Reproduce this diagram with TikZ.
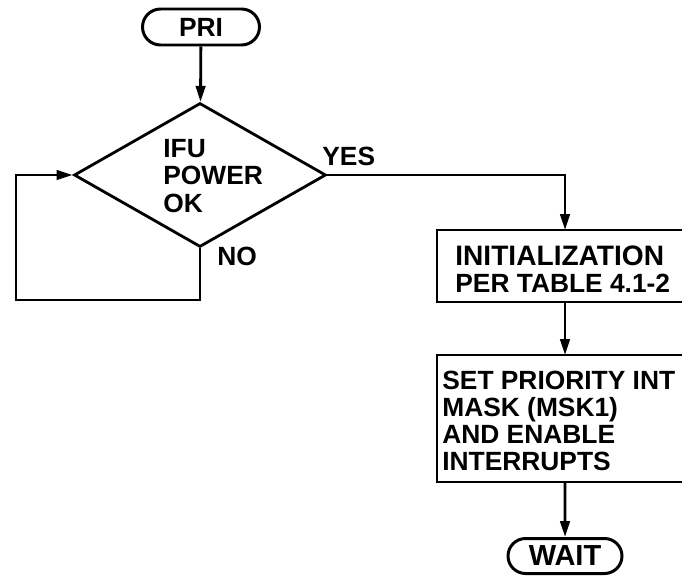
\documentclass[tikz,border=0pt]{standalone}
\usepackage{fontspec}
\setmainfont{Liberation Sans}
\usetikzlibrary{positioning,arrows.meta,shapes.geometric,shapes.misc}

\begin{document}
\begin{tikzpicture}[
  x=0.02cm,y=-0.02cm,
  every node/.style={font=\fontsize{15}{15.5}\selectfont\bfseries},
  term/.style={rounded rectangle, draw, line width=1.7pt, minimum height=0.72cm, inner sep=0pt},
  test/.style={diamond, draw, line width=1.6pt, minimum width=5.04cm, minimum height=2.88cm, inner sep=0pt},
  proc/.style={rectangle, anchor=north west, minimum width=6cm, inner sep=0pt, outer sep=0pt},
  edge/.style={line width=1.6pt, line join=miter},
  body/.style={anchor=west, align=left, inner sep=0pt},
  tag/.style={anchor=base west, inner sep=0pt},
  flow/.style={line width=1.6pt, -{Triangle[length=0.32cm,width=0.19cm]}}
]
\useasboundingbox (0,0) rectangle (682,575);

\node[term, minimum width=2.34cm] (pri) at (201,27) {PRI};
\node[test] (ok) at (200,175) {};
\node[body] (okText) at (163,176)
  {\fontsize{15}{17}\selectfont IFU\\POWER\\OK};

% boxes run off the right side of the sheet
\node[proc, minimum height=1.44cm] (init) at (437,230) {};
\node[body] (initText) at (455,269)
  {\fontsize{16}{16}\selectfont INITIALIZATION\\PER TABLE 4.1-2};
\draw[edge] (init.north east) -- (init.north west) -- (init.south west) -- (init.south east);

\node[proc, minimum height=2.54cm] (mask) at (437,355) {};
\node[body] (maskText) at (442,421)
  {SET PRIORITY INT\\MASK (MSK1)\\AND ENABLE\\INTERRUPTS};
\draw[edge] (mask.north east) -- (mask.north west) -- (mask.south west) -- (mask.south east);

\node[term, minimum width=2.28cm, minimum height=0.7cm] (wait) at (565,556)
  {\fontsize{16.5}{17}\selectfont WAIT};

\node[tag] (yes) at (322,165) {YES};
\node[tag] (no) at (217,265) {NO};
\coordinate (loop) at (16,300);

\draw[flow] (pri) -- (ok);
\draw[flow] (ok.east) -| (init.north -| wait);
\draw[flow] (ok.south) |- (loop) |- (ok.west);
\draw[flow] (init.south -| wait) -- (mask.north -| wait);
\draw[flow] (mask.south -| wait) -- (wait);
\end{tikzpicture}
\end{document}
